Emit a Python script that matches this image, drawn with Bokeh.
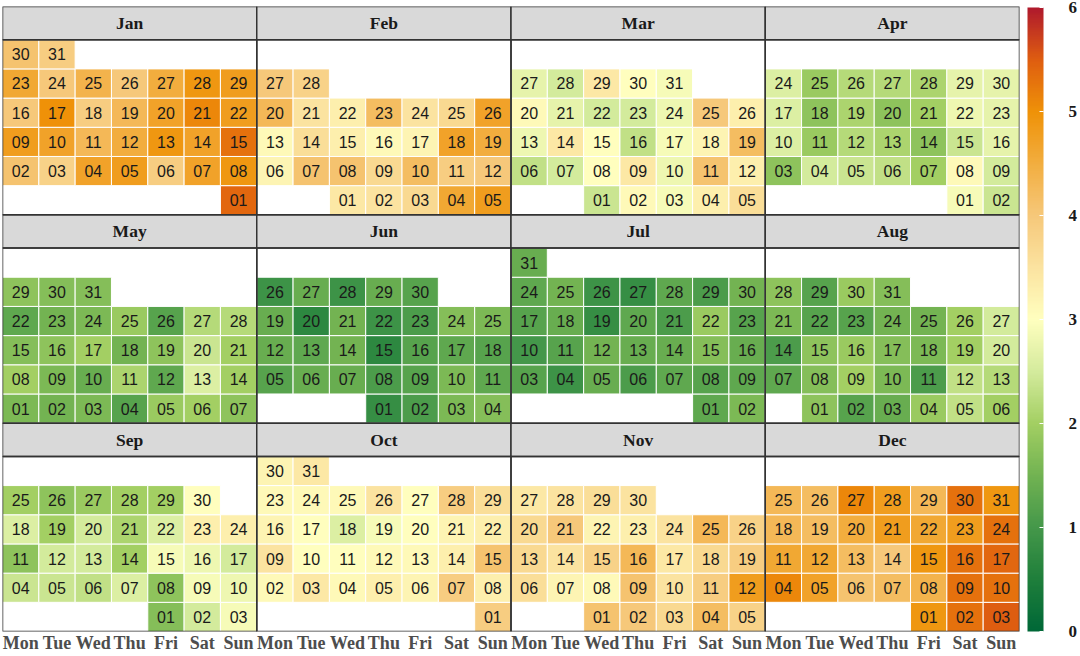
import datetime
import numpy as np
from bokeh.plotting import figure
from bokeh.models import ColumnDataSource, LinearColorMapper, ColorBar, FixedTicker, Range1d
from bokeh.transform import transform
from bokeh.core.properties import value
from bokeh.embed import file_html
from bokeh.resources import INLINE

year = 2017
months = ["Jan", "Feb", "Mar", "Apr", "May", "Jun", "Jul", "Aug", "Sep", "Oct", "Nov", "Dec"]
weekdays = ["Mon", "Tue", "Wed", "Thu", "Fri", "Sat", "Sun"]
colorbar_ticks = [0, 1, 2, 3, 4, 5, 6]

jan = [5.4, 4.1, 3.8, 4.7, 4.8, 3.9, 4.7, 4.9, 4.8, 4.7, 4.3, 4.5, 4.9, 4.7, 5.3,
       4.0, 5.0, 3.9, 4.3, 4.7, 5.1, 4.8, 4.6, 4.0, 4.4, 4.0, 4.5, 4.9, 4.8, 4.1, 3.9]
feb = [3.4, 3.5, 3.7, 4.6, 4.8, 3.2, 4.1, 4.1, 3.7, 4.2, 3.9, 4.0, 3.1, 3.6, 3.3,
       3.1, 3.2, 4.7, 4.5, 4.3, 3.5, 3.3, 4.2, 3.5, 3.7, 4.7, 4.0, 3.8]
mar = [2.4, 3.1, 2.9, 3.3, 3.6, 2.3, 2.5, 3.0, 3.4, 2.8, 4.1, 3.3, 2.8, 3.4, 3.0,
       2.3, 2.9, 3.2, 4.2, 3.1, 2.7, 2.5, 2.5, 2.8, 4.0, 3.3, 2.7, 2.5, 3.4, 3.0, 2.9]
apr = [2.9, 2.4, 1.8, 2.5, 2.4, 2.3, 2.0, 3.1, 2.5, 2.6, 1.9, 2.2, 2.1, 1.8, 2.4,
       2.7, 2.6, 1.8, 2.1, 1.8, 2.0, 2.8, 2.7, 2.6, 1.9, 2.2, 2.2, 2.1, 2.7, 2.7]
may = [1.6, 1.5, 1.6, 1.2, 1.9, 2.0, 1.8, 2.0, 1.6, 1.4, 2.1, 1.3, 2.6, 2.0, 1.7,
       1.8, 2.0, 1.5, 1.8, 2.4, 2.0, 1.3, 1.5, 1.6, 1.9, 1.2, 2.2, 2.2, 1.8, 1.7, 1.7]
jun = [0.8, 1.1, 1.6, 1.7, 1.2, 1.4, 1.4, 1.1, 1.2, 1.6, 1.3, 1.4, 1.3, 1.5, 0.7,
       1.2, 1.3, 1.2, 1.4, 0.7, 1.5, 0.9, 1.1, 1.7, 1.6, 0.9, 1.4, 0.9, 1.4, 1.2]
jul = [1.3, 1.6, 1.2, 0.9, 1.4, 1.1, 1.3, 1.2, 1.3, 1.0, 1.2, 1.5, 1.4, 1.4, 1.7,
       1.4, 1.2, 1.4, 0.8, 1.3, 1.1, 1.9, 1.2, 1.3, 1.5, 0.9, 0.8, 1.3, 1.1, 1.5, 1.4]
aug = [1.8, 1.2, 1.4, 1.9, 2.3, 2.0, 1.3, 1.7, 2.0, 1.6, 1.1, 2.3, 2.2, 1.1, 1.8,
       1.9, 1.7, 1.6, 2.0, 2.5, 1.6, 1.2, 1.2, 1.5, 1.5, 2.0, 2.5, 1.8, 1.2, 1.9, 1.7]
sep = [1.7, 2.5, 2.9, 2.4, 2.4, 2.3, 2.6, 1.8, 2.9, 2.8, 1.8, 2.5, 2.5, 2.0, 2.9,
       2.8, 2.5, 2.6, 2.0, 2.5, 2.1, 2.6, 3.3, 3.3, 2.0, 1.8, 1.9, 2.0, 2.0, 3.0]
oct_ = [3.9, 3.1, 3.4, 3.1, 3.3, 3.2, 3.9, 3.3, 3.5, 3.0, 3.0, 3.1, 3.1, 3.3, 4.1,
        3.2, 3.0, 2.6, 2.9, 3.0, 3.2, 3.3, 3.1, 3.1, 3.1, 3.5, 3.0, 3.9, 3.6, 3.2, 3.4]
nov = [4.1, 4.0, 3.7, 4.2, 3.8, 3.6, 3.2, 3.1, 4.1, 3.5, 3.9, 4.8, 3.7, 3.5, 3.8,
       4.3, 3.4, 3.7, 3.9, 3.7, 4.0, 3.2, 3.3, 3.5, 4.3, 3.8, 3.4, 3.5, 3.6, 3.5]
dec = [4.9, 5.3, 5.5, 5.1, 4.7, 4.1, 4.2, 4.4, 5.3, 5.3, 4.6, 4.6, 4.2, 4.0, 4.9,
       5.3, 5.4, 4.3, 4.2, 4.5, 4.8, 4.6, 4.8, 5.3, 4.3, 4.2, 5.1, 4.8, 4.3, 5.3, 4.9]
month_values = [jan, feb, mar, apr, may, jun, jul, aug, sep, oct_, nov, dec]

# colour scale (style)
stop_pos = [0, 0.5, 1, 1.5, 2, 2.5, 3, 3.5, 4, 4.5, 5, 5.5, 6]
stop_col = ["#006837", "#1f7f3b", "#45984a", "#72b352", "#a3cf63", "#d4eb9d", "#ffffbf",
            "#fbe3a0", "#f6c87a", "#f2ae40", "#ef9208", "#df5e10", "#b01a2c"]
rgb = np.array([[int(c[i:i + 2], 16) for i in (1, 3, 5)] for c in stop_col], dtype=float)
vals = np.linspace(0, 6, 256)
palette = []
for v in vals:
    ch = [np.interp(v, stop_pos, rgb[:, k]) for k in range(3)]
    palette.append("#%02x%02x%02x" % tuple(int(round(c)) for c in ch))
mapper = LinearColorMapper(palette=palette, low=0, high=6)

S = 1.138
P = 6 + S
Ytot = 3 * P

xs, ys, vs, labels = [], [], [], []
sx, sy, stext = [], [], []
bx, by = [], []
for m, mv in enumerate(month_values):
    col, row = m % 4, m // 4
    y0 = (2 - row) * P
    first_wd = datetime.date(year, m + 1, 1).weekday()
    for d, val in enumerate(mv, start=1):
        wd = datetime.date(year, m + 1, d).weekday()
        week = (d - 1 + first_wd) // 7
        xs.append(col * 7 + wd + 0.5)
        ys.append(y0 + week + 0.5)
        vs.append(val)
        labels.append("%02d" % d)
    sx.append(col * 7 + 3.5)
    sy.append(y0 + 6 + S / 2)
    stext.append(months[m])
    bx.append(col * 7 + 3.5)
    by.append(y0 + 3)

src = ColumnDataSource(dict(x=xs, y=ys, v=vs, t=labels))
strips = ColumnDataSource(dict(x=sx, y=sy, t=stext))
boxes = ColumnDataSource(dict(x=bx, y=by))

p = figure(frame_width=1017, frame_height=625, x_range=Range1d(0, 28), y_range=Range1d(0, Ytot),
           output_backend="svg", toolbar_location=None, y_axis_location=None,
           min_border_left=2, min_border_top=6, min_border_right=0, min_border_bottom=0)
p.outline_line_color = None
p.xgrid.visible = False
p.ygrid.visible = False

p.rect(x="x", y="y", width=1, height=1, source=src, fill_color=transform("v", mapper),
       line_color="white", line_width=1)
p.text(x="x", y="y", text="t", source=src, text_align="center", text_baseline="middle",
       text_font=value("Liberation Sans"), text_font_size="16px", text_color="#1a1a1a")
p.rect(x="x", y="y", width=7, height=S, source=strips, fill_color="#d9d9d9",
       line_color="#333333", line_width=1.5)
p.text(x="x", y="y", text="t", source=strips, text_align="center", text_baseline="middle",
       text_font=value("Liberation Serif"), text_font_style="bold", text_font_size="17.5px",
       text_color="#1a1a1a")
p.rect(x="x", y="y", width=7, height=6, source=boxes, fill_color=None,
       line_color="#333333", line_width=1.5)

ticks = [c * 7 + i + 0.5 for c in range(4) for i in range(7)]
p.xaxis.ticker = FixedTicker(ticks=ticks)
p.xaxis.major_label_overrides = {t: weekdays[i % 7] for i, t in enumerate(ticks)}
p.xaxis.axis_line_color = None
p.xaxis.major_tick_line_color = None
p.xaxis.minor_tick_line_color = None
p.xaxis.major_tick_out = 0
p.xaxis.major_tick_in = 0
p.xaxis.minor_tick_out = 0
p.xaxis.minor_tick_in = 0
p.xaxis.major_label_standoff = 1
p.xaxis.major_label_text_font = "Liberation Serif"
p.xaxis.major_label_text_font_style = "bold"
p.xaxis.major_label_text_font_size = "18px"
p.xaxis.major_label_text_color = "#4d4d4d"

cb = ColorBar(color_mapper=mapper, ticker=FixedTicker(ticks=colorbar_ticks), width=16,
              height=624, padding=0, margin=0, label_standoff=25, location=(8, 0),
              major_label_text_font="Liberation Serif", major_label_text_font_style="bold",
              major_label_text_font_size="17px", major_label_text_color="#1a1a1a",
              major_tick_line_color="white", major_tick_in=4, major_tick_out=0,
              minor_tick_line_color=None, bar_line_color=None, border_line_color=None)
p.add_layout(cb, "right")

html = file_html(p, INLINE)
open("out.html", "w").write(html)
